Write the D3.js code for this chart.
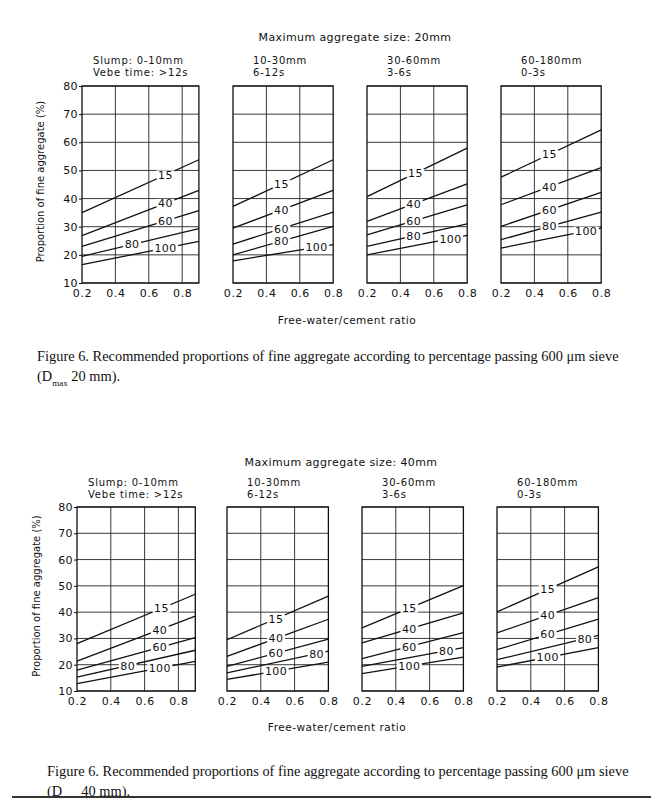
<!DOCTYPE html>
<html>
<head>
<meta charset="utf-8">
<script src="https://cdn.jsdelivr.net/npm/d3@7"></script>
<style>
body { margin: 0; background: #fff; }
text { fill: #111; }
</style>
</head>
<body>
<script>
// curves are labelled by % passing the 600 um sieve
const passing = ['15', '40', '60', '80', '100'];
const ratioTicks = [0.2, 0.4, 0.6, 0.8];
const proportionTicks = [10, 20, 30, 40, 50, 60, 70, 80];
const slumpHeads = [
    ['Slump: 0-10mm', 'Vebe time: >12s'],
    ['10-30mm', '6-12s'],
    ['30-60mm', '3-6s'],
    ['60-180mm', '0-3s']
];
const panelRatioMax = [0.9, 0.8, 0.8, 0.8];

// proportion of fine aggregate at w/c 0.2 and at the right edge, one pair per curve
const fine20 = [
    [[35, 53.8], [26.8, 42.9], [23, 35.7], [19.5, 29.3], [16.5, 24.8]],
    [[37.2, 53.8], [29.5, 42.9], [23.8, 35.2], [20, 30.1], [17.9, 23.6]],
    [[40.7, 57.9], [31.9, 45.2], [27.1, 37.8], [23, 31], [20, 26.9]],
    [[47.6, 64.4], [37.8, 51], [30.1, 42.2], [25.4, 35.2], [22.4, 29.5]]
];
const fine40 = [
    [[28, 46.8], [21.4, 38.5], [17.9, 30.3], [15.3, 25.5], [12.8, 21.3]],
    [[29.5, 46.1], [23.2, 37.3], [19.4, 29.7], [16.9, 25.2], [14.4, 21]],
    [[34, 50.1], [28.3, 39.7], [22.3, 32.2], [19.4, 26.5], [16.6, 22.9]],
    [[40.1, 57.2], [32.1, 45.5], [25.7, 37.3], [21.9, 31.2], [19.1, 26.5]]
];

// w/c ratio where each curve label sits
const labelAt20 = [
    [0.7, 0.7, 0.7, 0.5, 0.7],
    [0.49, 0.49, 0.49, 0.49, 0.7],
    [0.49, 0.48, 0.48, 0.48, 0.7],
    [0.49, 0.49, 0.49, 0.49, 0.71]
];
const labelAt40 = [
    [0.7, 0.69, 0.69, 0.5, 0.69],
    [0.49, 0.49, 0.49, 0.73, 0.49],
    [0.48, 0.48, 0.48, 0.7, 0.48],
    [0.5, 0.5, 0.5, 0.72, 0.5]
];

const figures = [
    { title: 'Maximum aggregate size: 20mm', size: '20', data: fine20, labels: labelAt20,
      top: 86, bottom: 283, lefts: [82, 233, 367, 501], pxPerRatio: 167,
      titleX: 355, titleY: 41, headY: 64, yLabelX: 44, xTitleX: 347, xTitleY: 324,
      capX: 37, capY: 361 },
    { title: 'Maximum aggregate size: 40mm', size: '40', data: fine40, labels: labelAt40,
      top: 507, bottom: 691, lefts: [77, 227, 362, 497], pxPerRatio: 169,
      titleX: 341, titleY: 466, headY: 486, yLabelX: 40, xTitleX: 337, xTitleY: 731,
      capX: 47, capY: 776 }
];

const sans = 'DejaVu Sans, sans-serif';
const serif = 'Liberation Serif, Times New Roman, serif';

const svg = d3.select('body').append('svg')
    .attr('width', 651)
    .attr('height', 798);

figures.forEach((fig) => {

    const g = svg.append('g');

    const y = d3.scaleLinear().domain([10, 80]).range([fig.bottom, fig.top]);

    g.append('text')
        .attr('x', fig.titleX).attr('y', fig.titleY)
        .attr('text-anchor', 'middle')
        .style('font-family', sans).style('font-size', '11px')
        .style('letter-spacing', '0.4px')
        .text(fig.title);

    fig.lefts.forEach((left, p) => {

        const x = d3.scaleLinear()
            .domain([0.2, panelRatioMax[p]])
            .range([left, left + (panelRatioMax[p] - 0.2) * fig.pxPerRatio]);

        const panel = g.append('g');

        // panel heading
        slumpHeads[p].forEach((t, i) => {
            panel.append('text')
                .attr('x', left + (p === 0 ? 11 : 20))
                .attr('y', fig.headY + i * 12)
                .style('font-family', sans).style('font-size', '10px')
                .style('letter-spacing', '0.8px')
                .text(t);
        });

        // grid
        panel.selectAll('.hgrid').data(proportionTicks).enter().append('line')
            .attr('x1', x.range()[0]).attr('x2', x.range()[1])
            .attr('y1', (d) => y(d)).attr('y2', (d) => y(d))
            .attr('stroke', '#222').attr('stroke-width', 0.9);

        panel.selectAll('.vgrid').data(ratioTicks.filter((d) => d > 0.2 && d < panelRatioMax[p])).enter().append('line')
            .attr('x1', (d) => x(d)).attr('x2', (d) => x(d))
            .attr('y1', fig.top).attr('y2', fig.bottom)
            .attr('stroke', '#222').attr('stroke-width', 0.9);

        panel.append('rect')
            .attr('x', x.range()[0]).attr('y', fig.top)
            .attr('width', x.range()[1] - x.range()[0])
            .attr('height', fig.bottom - fig.top)
            .attr('fill', 'none').attr('stroke', '#111').attr('stroke-width', 1.3);

        // x axis labels
        const xAxis = panel.append('g')
            .attr('transform', 'translate(0,' + fig.bottom + ')')
            .call(d3.axisBottom(x).tickValues(ratioTicks).tickSize(0).tickPadding(6).tickFormat(d3.format('.1f')));
        xAxis.select('.domain').remove();
        xAxis.selectAll('text')
            .style('font-family', sans).style('font-size', '11px')
            .style('letter-spacing', '0.6px').attr('fill', '#111');

        if (p === 0) {
            const yAxis = panel.append('g')
                .attr('transform', 'translate(' + left + ',0)')
                .call(d3.axisLeft(y).tickValues(proportionTicks).tickSize(3).tickPadding(1));
            yAxis.select('.domain').remove();
            yAxis.selectAll('line').attr('stroke', '#111');
            yAxis.selectAll('text')
                .style('font-family', sans).style('font-size', '11px')
                .style('letter-spacing', '0.4px').attr('fill', '#111');
        }

        // curves
        const line = d3.line().x((d) => x(d[0])).y((d) => y(d[1]));
        fig.data[p].forEach((v) => {
            panel.append('path')
                .attr('d', line([[0.2, v[0]], [panelRatioMax[p], v[1]]]))
                .attr('fill', 'none').attr('stroke', '#111').attr('stroke-width', 1.3);
        });

        fig.data[p].forEach((v, i) => {
            const at = fig.labels[p][i];
            const val = v[0] + (v[1] - v[0]) * (at - 0.2) / (panelRatioMax[p] - 0.2);
            const lg = panel.append('g');
            const bg = lg.append('rect').attr('fill', '#fff');
            const t = lg.append('text')
                .attr('x', x(at)).attr('y', y(val) + 4)
                .attr('text-anchor', 'middle')
                .style('font-family', sans).style('font-size', '11px')
                .style('letter-spacing', '0.4px')
                .text(passing[i]);
            const b = t.node().getBBox();
            bg.attr('x', b.x - 1.5).attr('y', y(val) - 4.5)
                .attr('width', b.width + 3).attr('height', 9);
        });
    });

    // y axis title
    g.append('text')
        .attr('transform', 'translate(' + fig.yLabelX + ',' + ((fig.top + fig.bottom) / 2 - 3) + ') rotate(-90)')
        .attr('text-anchor', 'middle')
        .style('font-family', sans).style('font-size', '10px')
        .text('Proportion of fine aggregate (%)');

    g.append('text')
        .attr('x', fig.xTitleX).attr('y', fig.xTitleY)
        .attr('text-anchor', 'middle')
        .style('font-family', sans).style('font-size', '10.5px')
        .style('letter-spacing', '0.5px')
        .text('Free-water/cement ratio');

    // caption
    g.append('text')
        .attr('x', fig.capX).attr('y', fig.capY)
        .style('font-family', serif).style('font-size', '14.4px')
        .text('Figure 6. Recommended proportions of fine aggregate according to percentage passing 600 μm sieve');

    const cap2 = g.append('text')
        .attr('x', fig.capX).attr('y', fig.capY + 20)
        .style('font-family', serif).style('font-size', '14.4px');
    cap2.append('tspan').text('(D');
    cap2.append('tspan').attr('dy', 5).style('font-size', '9px').text('max');
    cap2.append('tspan').attr('dy', -5).text(' ' + fig.size + ' mm).');
});

svg.append('line')
    .attr('x1', 12).attr('x2', 651)
    .attr('y1', 797).attr('y2', 797)
    .attr('stroke', '#333').attr('stroke-width', 2);
</script>
</body>
</html>
